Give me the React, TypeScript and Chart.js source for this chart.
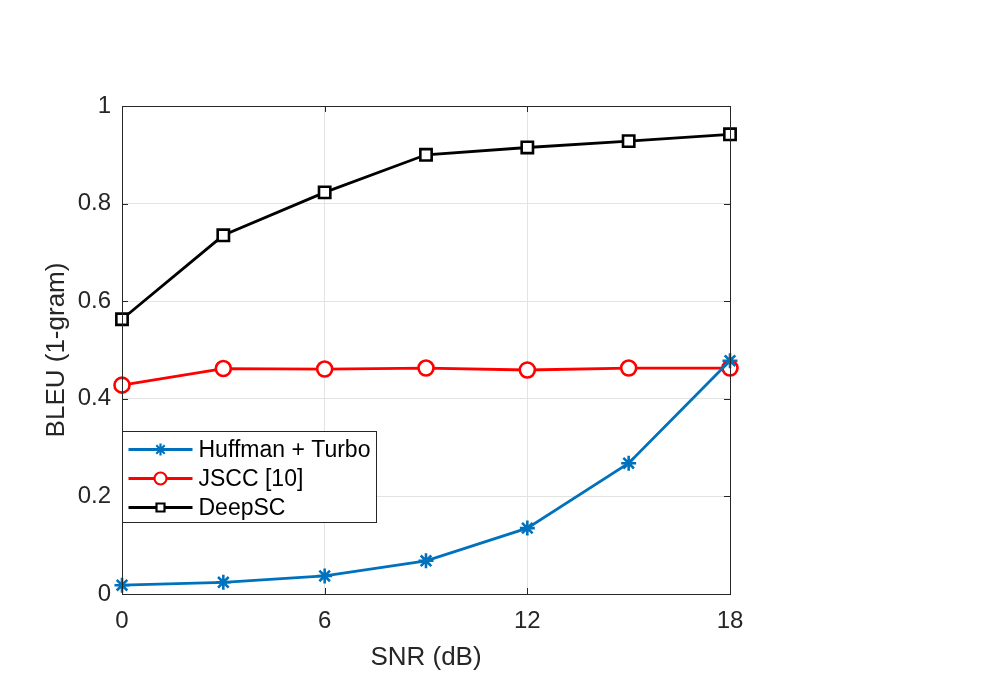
import React, { useEffect, useRef } from 'react';
import Chart from 'chart.js/auto';

const snrDb = [0, 3, 6, 9, 12, 15, 18];
const huffmanTurbo = [0.018, 0.024, 0.037, 0.068, 0.135, 0.268, 0.478];
const jscc = [0.428, 0.462, 0.461, 0.463, 0.459, 0.463, 0.463];
const deepSC = [0.563, 0.735, 0.823, 0.9, 0.915, 0.928, 0.942];
const xTicks = [0, 6, 12, 18];
const yTicks = [0, 0.2, 0.4, 0.6, 0.8, 1];

const axisColor = '#262626';
const fontFamily = '"Liberation Sans", Arial, Helvetica, sans-serif';

// draw a legend marker the same way as the plot markers
function drawMarker(ctx: CanvasRenderingContext2D, style: string, x: number, y: number, r: number) {
  ctx.beginPath();
  if (style === 'star') {
    for (let k = 0; k < 4; k++) {
      const a = (k * Math.PI) / 4;
      ctx.moveTo(x - r * Math.cos(a), y - r * Math.sin(a));
      ctx.lineTo(x + r * Math.cos(a), y + r * Math.sin(a));
    }
    ctx.stroke();
  } else if (style === 'circle') {
    ctx.arc(x, y, r, 0, Math.PI * 2);
    ctx.fill();
    ctx.stroke();
  } else {
    ctx.rect(x - r, y - r, 2 * r, 2 * r);
    ctx.fill();
    ctx.stroke();
  }
}

const framePlugin = {
  id: 'frame',
  afterDraw(chart: any) {
    const ctx: CanvasRenderingContext2D = chart.ctx;
    const { left, right, top, bottom } = chart.chartArea;
    const xs = chart.scales.x;
    const ys = chart.scales.y;
    ctx.save();
    ctx.strokeStyle = axisColor;
    ctx.lineWidth = 1;
    ctx.strokeRect(left + 0.5, top + 0.5, right - left, bottom - top);
    // inward ticks on all four sides
    const len = 6;
    ctx.beginPath();
    xTicks.forEach((v) => {
      const px = Math.round(xs.getPixelForValue(v)) + 0.5;
      ctx.moveTo(px, bottom);
      ctx.lineTo(px, bottom - len);
      ctx.moveTo(px, top);
      ctx.lineTo(px, top + len);
    });
    yTicks.forEach((v) => {
      const py = Math.round(ys.getPixelForValue(v)) + 0.5;
      ctx.moveTo(left, py);
      ctx.lineTo(left + len, py);
      ctx.moveTo(right, py);
      ctx.lineTo(right - len, py);
    });
    ctx.stroke();

    // legend box inside the axes, lower left
    const bx = left + 0.5;
    const by = 431.5;
    const bw = 254;
    const bh = 91;
    ctx.fillStyle = '#ffffff';
    ctx.fillRect(bx, by, bw, bh);
    ctx.strokeStyle = axisColor;
    ctx.strokeRect(bx, by, bw, bh);
    ctx.font = `23px ${fontFamily}`;
    ctx.textBaseline = 'middle';
    chart.data.datasets.forEach((ds: any, i: number) => {
      const ry = by + 18 + i * 29;
      ctx.strokeStyle = ds.borderColor;
      ctx.lineWidth = 2.8;
      ctx.beginPath();
      ctx.moveTo(bx + 6, ry);
      ctx.lineTo(bx + 70, ry);
      ctx.stroke();
      ctx.lineWidth = 2.2;
      ctx.fillStyle = '#ffffff';
      const r = ds.pointStyle === 'rect' ? 4 : 6;
      drawMarker(ctx, ds.pointStyle, bx + 38, ry, r);
      ctx.fillStyle = '#000000';
      ctx.fillText(ds.label, bx + 76, ry + 1);
    });
    ctx.restore();
  },
};

const App: React.FC = () => {
  const canvasRef = useRef<HTMLCanvasElement>(null);
  const chartRef = useRef<Chart | null>(null);

  useEffect(() => {
    if (!canvasRef.current) return;
    if (chartRef.current) {
      chartRef.current.destroy();
      chartRef.current = null;
    }

    const pts = (values: number[]) => snrDb.map((x, i) => ({ x, y: values[i] }));

    chartRef.current = new Chart(canvasRef.current, {
      type: 'line',
      data: {
        datasets: [
          {
            label: 'Huffman + Turbo',
            data: pts(huffmanTurbo),
            borderColor: '#0072BD',
            backgroundColor: '#0072BD',
            borderWidth: 2.8,
            pointStyle: 'star',
            pointRadius: 7.5,
            pointBorderWidth: 2.6,
            clip: false,
          },
          {
            label: 'JSCC [10]',
            data: pts(jscc),
            borderColor: '#FF0000',
            backgroundColor: '#ffffff',
            borderWidth: 2.8,
            pointStyle: 'circle',
            pointRadius: 7.5,
            pointBorderWidth: 2.6,
            clip: false,
          },
          {
            label: 'DeepSC',
            data: pts(deepSC),
            borderColor: '#000000',
            backgroundColor: '#ffffff',
            borderWidth: 2.8,
            pointStyle: 'rect',
            pointRadius: 8,
            pointBorderWidth: 2.6,
            clip: false,
          },
        ],
      },
      options: {
        animation: false,
        responsive: true,
        maintainAspectRatio: false,
        layout: { padding: { top: 106, right: 267, bottom: 0, left: 0 } },
        plugins: {
          legend: { display: false },
          tooltip: { enabled: false },
        },
        scales: {
          x: {
            type: 'linear',
            min: 0,
            max: 18,
            afterFit: (s: any) => {
              s.height = 82;
            },
            afterBuildTicks: (s: any) => {
              s.ticks = xTicks.map((value) => ({ value }));
            },
            ticks: {
              color: axisColor,
              padding: 13,
              font: { family: fontFamily, size: 24 },
              maxRotation: 0,
            },
            grid: { color: '#e3e3e3', lineWidth: 1, drawTicks: false },
            border: { display: false },
            title: {
              display: true,
              text: 'SNR (dB)',
              color: axisColor,
              font: { family: fontFamily, size: 26 },
              padding: { top: 0, bottom: 3 },
            },
          },
          y: {
            type: 'linear',
            min: 0,
            max: 1,
            afterFit: (s: any) => {
              s.width = 122;
            },
            afterBuildTicks: (s: any) => {
              s.ticks = yTicks.map((value) => ({ value }));
            },
            ticks: {
              color: axisColor,
              padding: 11,
              font: { family: fontFamily, size: 24 },
              callback: (v: any) => String(Number(Number(v).toFixed(1))),
            },
            grid: { color: '#e3e3e3', lineWidth: 1, drawTicks: false },
            border: { display: false },
            title: {
              display: true,
              text: 'BLEU (1-gram)',
              color: axisColor,
              font: { family: fontFamily, size: 26 },
              padding: { top: 41, bottom: 0 },
            },
          },
        },
      },
      plugins: [framePlugin],
    });

    return () => {
      if (chartRef.current) {
        chartRef.current.destroy();
        chartRef.current = null;
      }
    };
  }, []);

  return (
    <div style={{ position: 'absolute', left: 0, top: 0, width: 997, height: 676, background: '#ffffff' }}>
      <canvas ref={canvasRef}></canvas>
    </div>
  );
};

export default App;
